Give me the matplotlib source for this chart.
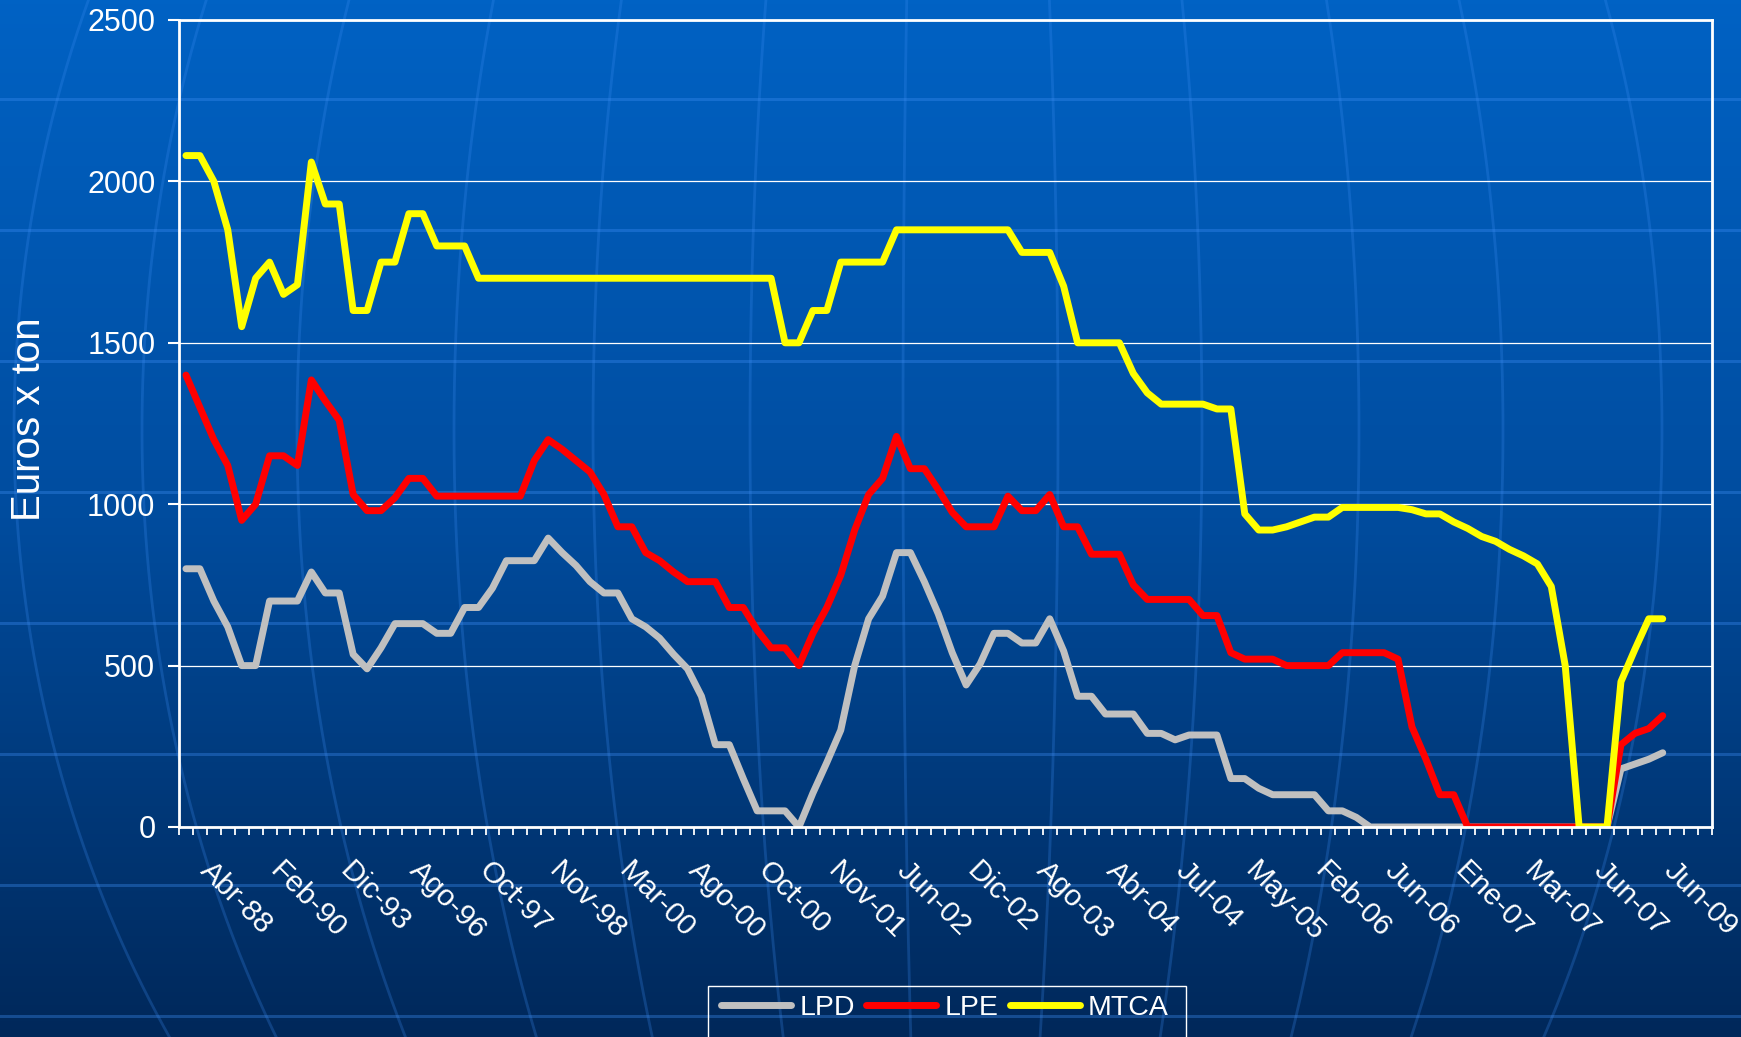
import numpy as np
import matplotlib
matplotlib.use("Agg")
import matplotlib.pyplot as plt
from matplotlib.colors import LinearSegmentedColormap
from matplotlib.patches import Rectangle
from matplotlib.transforms import ScaledTranslation

plt.rcParams['font.family'] = ['Liberation Sans', 'DejaVu Sans']

# ---- data: Euros x ton, one value per category (labels every 5th category) ----
tick_labels = ['Abr-88', 'Feb-90', 'Dic-93', 'Ago-96', 'Oct-97', 'Nov-98', 'Mar-00', 'Ago-00',
               'Oct-00', 'Nov-01', 'Jun-02', 'Dic-02', 'Ago-03', 'Abr-04', 'Jul-04', 'May-05',
               'Feb-06', 'Jun-06', 'Ene-07', 'Mar-07', 'Jun-07', 'Jun-09']
n_categories = 110

lpd = [800, 800, 700, 620, 500, 500, 700, 700, 700, 790,
       725, 725, 535, 490, 555, 630, 630, 630, 600, 600,
       680, 680, 740, 825, 825, 825, 895, 850, 810, 760,
       725, 725, 645, 620, 585, 535, 490, 405, 255, 255,
       150, 50, 50, 50, 0, 105, 200, 300, 500, 645,
       715, 850, 850, 760, 660, 540, 440, 505, 600, 600,
       570, 570, 645, 545, 405, 405, 350, 350, 350, 290,
       290, 270, 285, 285, 285, 150, 150, 120, 100, 100,
       100, 100, 50, 50, 30, 0, 0, 0, 0, 0,
       0, 0, 0, 0, 0, 0, 0, 0, 0, 0,
       0, 0, 0, 180, 195, 210, 230]

lpe = [1400, 1300, 1200, 1120, 950, 1000, 1150, 1150, 1120, 1385,
       1320, 1260, 1030, 980, 980, 1020, 1080, 1080, 1025, 1025,
       1025, 1025, 1025, 1025, 1025, 1135, 1200, 1170, 1135, 1100,
       1030, 930, 930, 850, 825, 790, 760, 760, 760, 680,
       680, 610, 555, 555, 500, 600, 680, 780, 920, 1030,
       1080, 1210, 1110, 1110, 1045, 975, 930, 930, 930, 1025,
       980, 980, 1030, 930, 930, 845, 845, 845, 750, 705,
       705, 705, 705, 655, 655, 540, 520, 520, 520, 500,
       500, 500, 500, 540, 540, 540, 540, 520, 310, 210,
       100, 100, 0, 0, 0, 0, 0, 0, 0, 0,
       0, 0, 0, 255, 290, 305, 345]

mtca = [2080, 2080, 2000, 1850, 1550, 1700, 1750, 1650, 1680, 2060,
        1930, 1930, 1600, 1600, 1750, 1750, 1900, 1900, 1800, 1800,
        1800, 1700, 1700, 1700, 1700, 1700, 1700, 1700, 1700, 1700,
        1700, 1700, 1700, 1700, 1700, 1700, 1700, 1700, 1700, 1700,
        1700, 1700, 1700, 1500, 1500, 1600, 1600, 1750, 1750, 1750,
        1750, 1850, 1850, 1850, 1850, 1850, 1850, 1850, 1850, 1850,
        1780, 1780, 1780, 1675, 1500, 1500, 1500, 1500, 1405, 1345,
        1310, 1310, 1310, 1310, 1295, 1295, 970, 920, 920, 930,
        945, 960, 960, 990, 990, 990, 990, 990, 983, 970,
        970, 945, 925, 900, 885, 860, 840, 815, 745, 500,
        0, 0, 0, 450, 550, 645, 645]

W, H = 1741, 1037
fig = plt.figure(figsize=(W / 100, H / 100), dpi=100)

# background: blue gradient with faint globe lines (pixel coordinates)
bg = fig.add_axes([0, 0, 1, 1], zorder=0)
bg.set_xlim(0, W)
bg.set_ylim(H, 0)
bg.axis('off')
cmap = LinearSegmentedColormap.from_list('bg', ['#0062C4', '#004C9E', '#00285A'])
bg.imshow(np.linspace(0, 1, 256).reshape(-1, 1), cmap=cmap, extent=[0, W, H, 0], aspect='auto')
for y in np.arange(99, H, 131):
    bg.axhline(y, color='#3d8ef5', alpha=0.35, lw=2.2)
cx, cy, R = 950, 430, 1100
yy = np.linspace(0, H, 300)
for d in [-936, -808, -653, -496, -357, -200, -47, 108, 252, 409, 553, 712]:
    bg.plot(cx + d * np.sqrt(1 - ((yy - cy) / R) ** 2), yy, color='#3d8ef5', alpha=0.25, lw=2)

# main chart
ax = fig.add_axes([179 / W, 1 - 827 / H, (1711.5 - 179) / W, (827 - 20) / H], zorder=1)
ax.set_facecolor('none')
x = np.arange(len(mtca))
style = dict(lw=5.0, solid_joinstyle='round', solid_capstyle='round')
ax.plot(x, lpd, color='#C0C0C0', label='LPD', **style)
ax.plot(x, lpe, color='#FF0000', label='LPE', **style)
ax.plot(x, mtca, color='#FFFF00', label='MTCA', **style)

ax.set_xlim(-0.5, n_categories - 0.5)
ax.set_ylim(0, 2500)
ax.set_yticks(np.arange(0, 2501, 500))
ax.yaxis.grid(True, color='white', lw=0.9)
ax.set_axisbelow(True)
for sp in ax.spines.values():
    sp.set_color('white')
    sp.set_linewidth(2)
ax.tick_params(axis='y', colors='white', labelsize=22, length=8, width=1.5, pad=9)

ax.set_xticks(np.arange(len(tick_labels)) * 5)
ax.set_xticklabels(tick_labels, rotation=-45, ha='left', va='center', rotation_mode='anchor')
ax.set_xticks(np.arange(-0.5, n_categories, 1), minor=True)
ax.tick_params(axis='x', which='major', length=0, labelsize=21.5, labelcolor='white', pad=28)
ax.tick_params(axis='x', which='minor', length=6, width=1.3, color='white')
for lab in ax.get_xticklabels():
    lab.set_transform(lab.get_transform() + ScaledTranslation(19 / 100, 0, fig.dpi_scale_trans))

fig.text(29 / W, 1 - 419 / H, 'Euros x ton', rotation=90, fontsize=29, color='white',
         ha='center', va='center')

handles, labels = ax.get_legend_handles_labels()
fig.legend(handles, labels, loc='center left', bbox_to_anchor=(721 / W, 1 - 1008 / H),
           ncol=3, frameon=False, fontsize=20.5, handlelength=2.45, handletextpad=0.3,
           columnspacing=0.4, borderpad=0, borderaxespad=0, labelcolor='white')
fig.add_artist(Rectangle((708 / W, -0.05), (1186 - 708) / W, 0.05 + 1 - 986 / H,
                         transform=fig.transFigure, fill=False, edgecolor='white', lw=1))

fig.savefig('out.png', dpi=100)
